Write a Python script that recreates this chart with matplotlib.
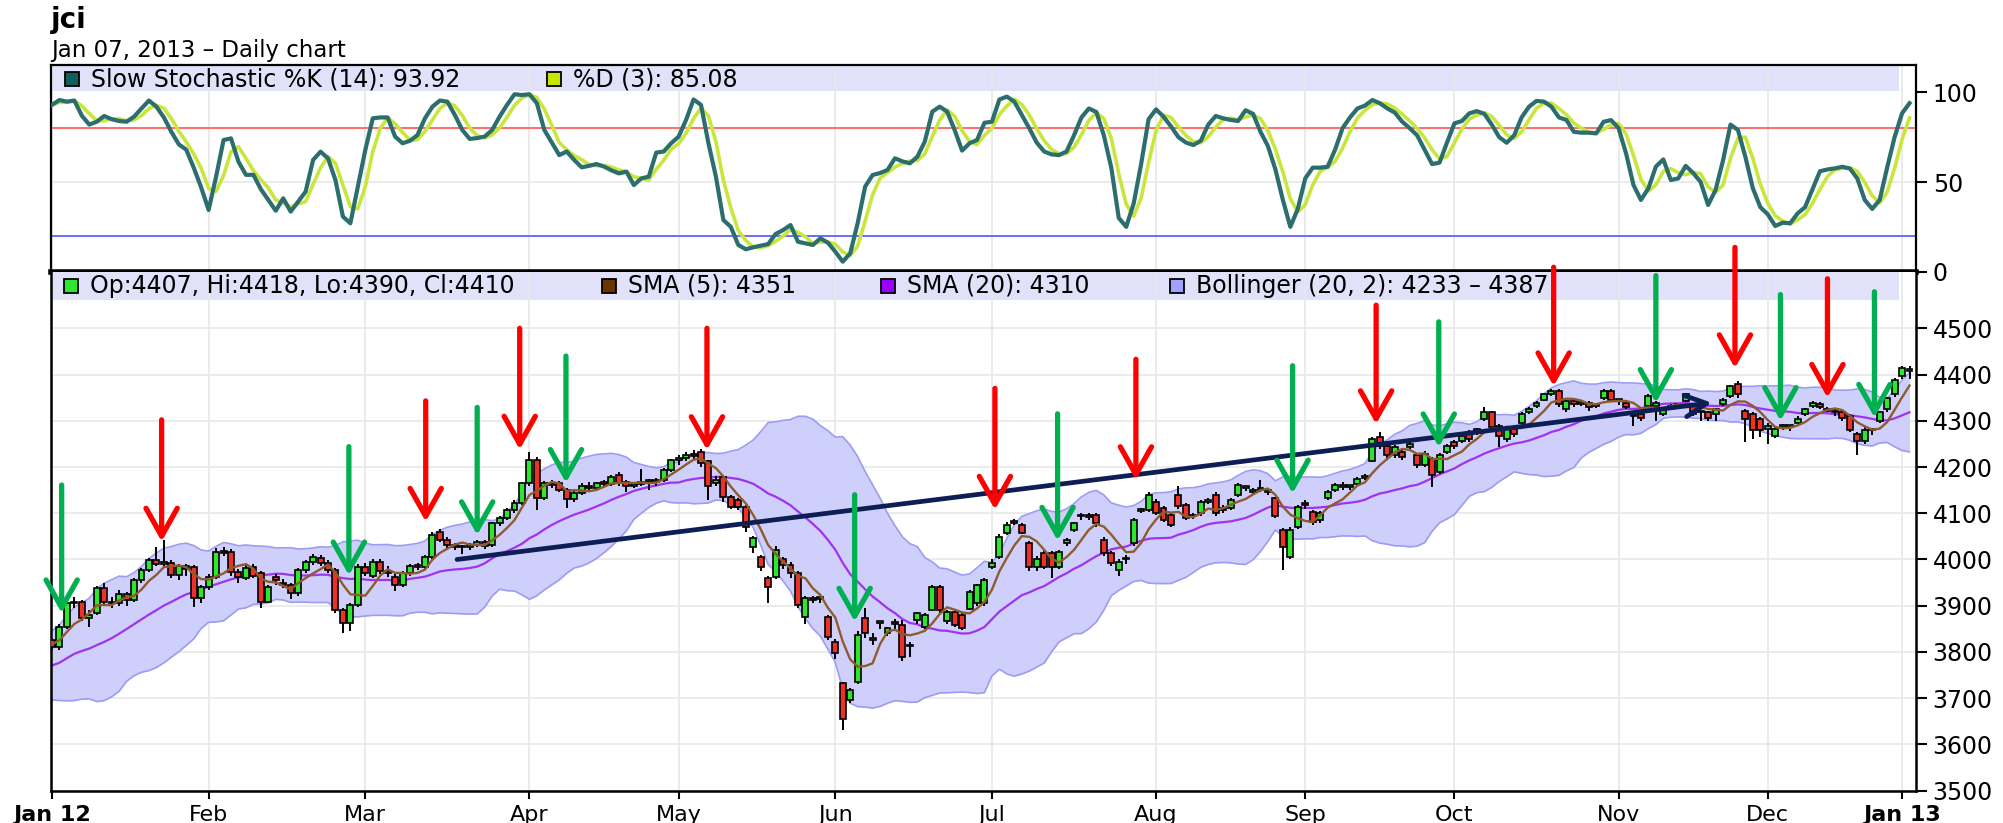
import numpy as np
import pandas as pd
import matplotlib
matplotlib.use("Agg")
import matplotlib.pyplot as plt

# Dec 2011 sessions, only needed to warm up the 20-day averages
warm_open = [3770, 3760, 3740, 3705, 3720, 3750, 3775, 3790, 3770, 3745,
             3730, 3710, 3745, 3770, 3790, 3800, 3795, 3810, 3815, 3822]
warm_high = [3785, 3768, 3745, 3730, 3760, 3782, 3798, 3795, 3775, 3750,
             3738, 3752, 3778, 3796, 3808, 3806, 3815, 3820, 3828, 3830]
warm_low = [3750, 3730, 3695, 3698, 3715, 3745, 3770, 3762, 3738, 3722,
            3700, 3705, 3740, 3765, 3785, 3788, 3790, 3805, 3810, 3815]
warm_close = [3760, 3740, 3705, 3720, 3750, 3775, 3790, 3770, 3745, 3730,
              3710, 3745, 3770, 3790, 3800, 3795, 3810, 3815, 3822, 3825]

# daily candles, Jan 2012 - Jan 7 2013
opens = [
    3825, 3810, 3855, 3905, 3908, 3873, 3885, 3938, 3909, 3905,
    3925, 3912, 3956, 3977, 3999, 3990, 3992, 3967, 3985, 3984,
    3916, 3940, 3963, 4017, 4017, 3974, 3960, 3984, 3970, 3909,
    3963, 3950, 3945, 3927, 3977, 3994, 4004, 3992, 3977, 3891,
    3862, 3902, 3984, 3965, 3995, 3975, 3963, 3945, 3970, 3986,
    3984, 4006, 4060, 4042, 4030, 4026, 4028, 4032, 4038, 4032,
    4078, 4089, 4107, 4122, 4165, 4215, 4132, 4165, 4165, 4150,
    4130, 4143, 4160, 4155, 4165, 4163, 4182, 4168, 4160, 4163,
    4168, 4168, 4172, 4194, 4215, 4220, 4226, 4233, 4212, 4165,
    4179, 4136, 4129, 4114, 4028, 4006, 3959, 3963, 4000, 3988,
    3970, 3876, 3916, 3914, 3876, 3822, 3732, 3696, 3736, 3873,
    3828, 3862, 3840, 3862, 3858, 3812, 3869, 3855, 3891, 3941,
    3866, 3887, 3880, 3894, 3905, 3905, 3984, 4006, 4057, 4082,
    4075, 4035, 3984, 4013, 4013, 3984, 4035, 4064, 4093, 4093,
    4096, 4042, 4013, 3977, 4002, 4035, 4105, 4107, 4125, 4111,
    4096, 4140, 4118, 4093, 4100, 4125, 4140, 4111, 4111, 4140,
    4154, 4147, 4150, 4147, 4132, 4064, 4006, 4071, 4121, 4103,
    4085, 4132, 4150, 4157, 4157, 4164, 4176, 4214, 4264, 4246,
    4225, 4232, 4243, 4225, 4204, 4218, 4189, 4232, 4254, 4257,
    4275, 4275, 4304, 4318, 4289, 4261, 4282, 4296, 4318, 4332,
    4346, 4357, 4364, 4325, 4343, 4336, 4339, 4332, 4350, 4364,
    4343, 4339, 4314, 4314, 4332, 4332, 4314, 4332, 4332, 4343,
    4332, 4318, 4318, 4314, 4336, 4354, 4379, 4321, 4314, 4304,
    4282, 4268, 4286, 4286, 4296, 4314, 4332, 4336, 4325, 4318,
    4318, 4311, 4271, 4257, 4279, 4300, 4325, 4357, 4396, 4407]
highs = [
    3830, 3860, 3912, 3918, 3912, 3890, 3942, 3950, 3918, 3935,
    3930, 3960, 3982, 4003, 4028, 4042, 3998, 3990, 3990, 3988,
    3945, 3968, 4025, 4028, 4022, 3980, 3990, 3990, 3975, 3945,
    3968, 3958, 3950, 3982, 3998, 4012, 4010, 3998, 3982, 3895,
    3905, 3990, 3992, 4000, 4000, 3985, 3968, 3975, 3990, 3992,
    4010, 4060, 4065, 4048, 4035, 4032, 4035, 4042, 4042, 4082,
    4095, 4112, 4128, 4168, 4233, 4222, 4170, 4172, 4170, 4155,
    4148, 4165, 4168, 4168, 4172, 4182, 4190, 4172, 4168, 4195,
    4175, 4176, 4198, 4218, 4225, 4232, 4236, 4238, 4215, 4180,
    4183, 4140, 4132, 4118, 4050, 4010, 3965, 4030, 4005, 3995,
    3975, 3920, 3920, 3918, 3880, 3828, 3735, 3722, 3845, 3895,
    3840, 3868, 3855, 3872, 3870, 3822, 3886, 3885, 3945, 3945,
    3890, 3890, 3884, 3935, 3948, 3960, 4000, 4055, 4082, 4088,
    4080, 4040, 4008, 4018, 4018, 4020, 4046, 4082, 4100, 4100,
    4100, 4048, 4018, 4000, 4010, 4090, 4112, 4145, 4130, 4115,
    4100, 4160, 4122, 4100, 4128, 4132, 4145, 4118, 4132, 4165,
    4160, 4155, 4172, 4155, 4136, 4068, 4070, 4118, 4128, 4106,
    4104, 4150, 4165, 4168, 4162, 4178, 4185, 4265, 4275, 4250,
    4248, 4236, 4255, 4230, 4235, 4222, 4230, 4250, 4258, 4272,
    4280, 4285, 4329, 4322, 4292, 4285, 4286, 4318, 4330, 4342,
    4360, 4368, 4368, 4346, 4347, 4345, 4342, 4336, 4368, 4368,
    4348, 4342, 4318, 4318, 4357, 4342, 4328, 4336, 4336, 4360,
    4336, 4322, 4322, 4328, 4350, 4378, 4386, 4325, 4318, 4308,
    4296, 4289, 4292, 4290, 4310, 4328, 4342, 4340, 4330, 4325,
    4322, 4315, 4275, 4286, 4285, 4321, 4352, 4392, 4418, 4418]
lows = [
    3805, 3805, 3850, 3895, 3868, 3855, 3880, 3900, 3895, 3900,
    3900, 3908, 3950, 3972, 3985, 3982, 3960, 3955, 3965, 3898,
    3905, 3935, 3958, 4008, 3965, 3950, 3955, 3960, 3895, 3905,
    3945, 3938, 3915, 3920, 3970, 3988, 3985, 3970, 3885, 3840,
    3845, 3898, 3965, 3960, 3968, 3962, 3932, 3940, 3965, 3978,
    3980, 4000, 4038, 4025, 4020, 4012, 4020, 4026, 4022, 4028,
    4072, 4085, 4100, 4118, 4160, 4108, 4128, 4155, 4145, 4112,
    4125, 4140, 4150, 4150, 4158, 4160, 4160, 4145, 4155, 4158,
    4150, 4160, 4168, 4190, 4205, 4212, 4218, 4200, 4129, 4160,
    4125, 4110, 4108, 4060, 4015, 3975, 3905, 3958, 3980, 3960,
    3895, 3860, 3905, 3905, 3825, 3785, 3631, 3690, 3730, 3830,
    3815, 3850, 3835, 3850, 3780, 3790, 3860, 3850, 3888, 3885,
    3860, 3855, 3848, 3890, 3900, 3900, 3980, 4000, 4052, 4075,
    4055, 3975, 3975, 3980, 3960, 3980, 4030, 4060, 4085, 4085,
    4070, 4008, 3985, 3965, 3990, 4030, 4100, 4102, 4096, 4082,
    4070, 4110, 4085, 4088, 4095, 4120, 4095, 4100, 4108, 4135,
    4148, 4140, 4145, 4140, 4090, 3977, 4000, 4066, 4110, 4075,
    4078, 4128, 4145, 4150, 4150, 4160, 4172, 4210, 4240, 4215,
    4220, 4215, 4238, 4198, 4200, 4157, 4185, 4228, 4240, 4252,
    4255, 4270, 4300, 4280, 4243, 4255, 4265, 4292, 4315, 4328,
    4342, 4354, 4330, 4320, 4330, 4332, 4322, 4328, 4346, 4340,
    4335, 4325, 4289, 4300, 4328, 4300, 4310, 4325, 4326, 4340,
    4310, 4300, 4300, 4300, 4332, 4350, 4350, 4254, 4260, 4265,
    4250, 4262, 4280, 4278, 4292, 4310, 4328, 4325, 4318, 4310,
    4300, 4275, 4225, 4250, 4270, 4295, 4320, 4352, 4390, 4390]
closes = [
    3810, 3855, 3905, 3908, 3873, 3880, 3938, 3909, 3905, 3925,
    3912, 3956, 3977, 3999, 3990, 3995, 3967, 3985, 3980, 3916,
    3940, 3963, 4017, 4014, 3974, 3963, 3982, 3965, 3909, 3940,
    3956, 3945, 3927, 3977, 3994, 4006, 3992, 3977, 3891, 3862,
    3902, 3984, 3970, 3995, 3975, 3970, 3945, 3970, 3986, 3984,
    4006, 4053, 4042, 4032, 4028, 4028, 4032, 4038, 4030, 4078,
    4089, 4107, 4122, 4165, 4215, 4132, 4165, 4162, 4150, 4130,
    4143, 4160, 4155, 4165, 4163, 4179, 4165, 4158, 4163, 4168,
    4170, 4172, 4194, 4215, 4220, 4226, 4224, 4208, 4158, 4172,
    4136, 4114, 4114, 4071, 4046, 3984, 3941, 4021, 3988, 3970,
    3902, 3916, 3912, 3916, 3833, 3797, 3656, 3718, 3837, 3840,
    3826, 3865, 3851, 3860, 3790, 3815, 3884, 3880, 3941, 3891,
    3887, 3858, 3851, 3930, 3945, 3956, 3992, 4049, 4075, 4080,
    4057, 3984, 4000, 3984, 3984, 4016, 4042, 4078, 4094, 4092,
    4078, 4013, 3992, 3995, 4000, 4085, 4107, 4140, 4100, 4085,
    4075, 4115, 4089, 4094, 4125, 4128, 4100, 4108, 4129, 4161,
    4156, 4150, 4152, 4148, 4093, 4028, 4064, 4114, 4118, 4082,
    4100, 4146, 4161, 4161, 4157, 4175, 4181, 4261, 4246, 4225,
    4243, 4221, 4250, 4204, 4229, 4182, 4225, 4246, 4246, 4268,
    4261, 4282, 4318, 4286, 4268, 4282, 4271, 4314, 4325, 4339,
    4357, 4364, 4336, 4343, 4336, 4339, 4329, 4332, 4364, 4346,
    4343, 4329, 4311, 4307, 4354, 4339, 4325, 4329, 4332, 4357,
    4314, 4318, 4307, 4325, 4346, 4375, 4357, 4304, 4279, 4279,
    4289, 4282, 4289, 4286, 4304, 4325, 4339, 4329, 4322, 4318,
    4307, 4279, 4257, 4279, 4282, 4318, 4350, 4389, 4414, 4410]

# slow stochastic %K(14)
stoch_k = [
    93, 95.7, 94.8, 95.4, 87, 82, 83.6, 86.8, 85, 84,
    83.6, 86.4, 91, 95.4, 92, 86, 78, 71, 68, 58,
    47, 34.4, 53, 73.4, 74.3, 61.3, 54, 54, 46, 40,
    34, 40.9, 33.5, 39, 44.6, 62.3, 66.9, 63.2, 51.1, 30.7,
    27, 47.4, 67.8, 85.5, 86, 86, 75.3, 71.6, 73, 76.2,
    85.5, 92, 95.4, 94.8, 87.4, 79, 74, 74.5, 75.3, 79,
    86.4, 93, 98.9, 98.5, 98.9, 93.9, 79, 72, 65, 67,
    62.3, 58.2, 59, 60, 58.6, 56.5, 54.8, 55.8, 48.3, 52,
    53, 66.4, 67, 71.6, 75.3, 84.6, 96, 93, 71.6, 53,
    28.8, 25, 14.9, 12.5, 13.6, 14.5, 15.4, 21, 23.2, 26,
    16.7, 15.8, 14.9, 18.6, 16.2, 11.2, 5.6, 10.2, 27, 47.4,
    53.9, 55, 56.7, 63.2, 61.5, 60.4, 64.1, 72.5, 89.2, 92,
    89.2, 79, 67.5, 71.6, 73.4, 83, 83.6, 96, 97.6, 94.8,
    87.4, 80, 72, 67, 65.4, 65, 67, 76, 86, 91,
    89, 76, 58, 30, 25, 38, 60, 85, 90.5, 86.4,
    81, 75, 72, 70.6, 73, 82, 86.8, 85.5, 84.6, 84,
    90, 88, 78, 70, 57, 40, 25, 35, 52, 58,
    58, 58.5, 68, 80, 86, 91, 92.6, 95.7, 93.9, 91,
    88.7, 83.6, 80, 76, 68, 60, 60.8, 72, 82.7, 84,
    88.3, 89.5, 88, 82, 75, 71.9, 76, 86, 92, 95.2,
    94.8, 92, 86, 84.6, 78, 77.5, 77.5, 77.1, 83.6, 84.5,
    80, 66, 48.3, 40, 46.5, 58.6, 62.6, 51.1, 52, 59,
    55, 50, 37.2, 45.5, 62, 82, 79, 64, 46.5, 36,
    32, 25.5, 27.3, 27, 32.5, 36, 46, 56, 57, 57.6,
    58.5, 57.5, 52, 40, 35, 40, 58, 75, 88.3, 93.92]

month_pos = [0, 21, 42, 64, 84, 105, 126, 148, 168, 188, 210, 230, 248]
month_lab = ["Jan 12", "Feb", "Mar", "Apr", "May", "Jun", "Jul",
             "Aug", "Sep", "Oct", "Nov", "Dec", "Jan 13"]

# hand drawn marks: (session, arrow top, arrow tip)
green_marks = [(1.3, 4161, 3884), (39.8, 4244, 3966), (57, 4329, 4053),
               (68.9, 4440, 4166), (107.6, 4140, 3866), (134.8, 4315, 4041),
               (166.3, 4419, 4143), (185.9, 4514, 4243), (215, 4614, 4339),
               (231.7, 4573, 4300), (244.3, 4579, 4307)]
red_marks = [(14.7, 4302, 4039), (50.1, 4343, 4082), (62.7, 4500, 4238),
             (87.8, 4500, 4237), (126.4, 4370, 4108), (145.3, 4433, 4172),
             (177.5, 4550, 4293), (201.3, 4632, 4375), (225.6, 4675, 4414),
             (238, 4607, 4350)]
trend_start = (54.3, 4000)
trend_end = (222.5, 4339)

# ---- indicators ----
n_warm = len(warm_close)
cl_all = pd.Series(warm_close + closes, dtype=float)
sma5 = cl_all.rolling(5).mean().values[n_warm:]
sma20 = cl_all.rolling(20).mean().values[n_warm:]
sd20 = cl_all.rolling(20).std(ddof=0).values[n_warm:]
bb_up = sma20 + 2 * sd20
bb_lo = sma20 - 2 * sd20
stoch_d = pd.Series(stoch_k).rolling(3, min_periods=1).mean().values

o = np.array(opens, float)
h = np.array(highs, float)
l = np.array(lows, float)
c = np.array(closes, float)
x = np.arange(len(c))

plt.rcParams['font.family'] = ['DejaVu Sans']

W, H = 2003, 823
fig = plt.figure(figsize=(W / 100, H / 100), dpi=100)


def box(left, top, right, bottom):
    return [left / W, 1 - bottom / H, (right - left) / W, (bottom - top) / H]


ax_s = fig.add_axes(box(51, 65.4, 1916, 271.7))
ax_p = fig.add_axes(box(51, 271.7, 1916, 790.7))
xlim = (-0.13, 249.87)
band_end = (1899 - 51) / (1916 - 51)

# ---- stochastic panel ----
ax_s.set_xlim(*xlim)
ax_s.set_ylim(0, 115)
ax_s.axhspan(100.5, 115, xmax=band_end, color='#e1e1fa', lw=0, zorder=0)
ax_s.axhline(80, color='#ff6b6b', lw=1.4, zorder=1)
ax_s.axhline(20, color='#6b6bff', lw=1.4, zorder=1)
ax_s.axhline(50, color='#e8e8e8', lw=1.2, zorder=0)
for m in month_pos:
    ax_s.axvline(m, color='#e8e8e8', lw=1.2, zorder=0)
ax_s.plot(x, stoch_d, color='#c8e63c', lw=2.6, zorder=2)
ax_s.plot(x, stoch_k, color='#2c6e6e', lw=3.0, zorder=3)
ax_s.yaxis.tick_right()
ax_s.set_yticks([0, 50, 100])
ax_s.set_xticks([])
ax_s.tick_params(axis='y', direction='out', length=8, width=1.5, labelsize=17, pad=4)
for s in ['left', 'right', 'top']:
    ax_s.spines[s].set_linewidth(1.6)
ax_s.spines['bottom'].set_linewidth(4)

# ---- price panel ----
ax_p.set_xlim(*xlim)
ax_p.set_ylim(3500, 4622.4)
ax_p.axhspan(4561, 4622.4, xmax=band_end, color='#e1e1fa', lw=0, zorder=0)
ax_p.set_yticks(np.arange(3500, 4501, 100))
ax_p.set_xticks(month_pos)
ax_p.set_xticklabels(month_lab)
ax_p.grid(True, color='#e8e8e8', lw=1.2)
ax_p.set_axisbelow(True)

ax_p.fill_between(x, bb_lo, bb_up, color='#cfcffb', lw=0, zorder=1)
ax_p.plot(x, bb_up, color='#9c9cf4', lw=1.2, zorder=1.2)
ax_p.plot(x, bb_lo, color='#9c9cf4', lw=1.2, zorder=1.2)
ax_p.plot(x, sma20, color='#a033f0', lw=1.6, zorder=1.5)

up = c >= o
body_lo = np.minimum(o, c)
body_h = np.maximum(np.abs(c - o), 4)
ax_p.vlines(x, l, h, color='black', lw=1.4, zorder=2)
ax_p.bar(x, body_h, bottom=body_lo, width=0.8,
         color=np.where(up, '#2fe62f', '#ec3228'),
         edgecolor='black', linewidth=1.2, zorder=3)
ax_p.plot(x, sma5, color='#8d5b2c', lw=1.7, zorder=4)

ax_p.annotate('', xy=trend_end, xytext=trend_start,
              arrowprops=dict(arrowstyle='->,head_length=0.7,head_width=0.35',
                              color='#0d1e55', lw=3.4, mutation_scale=22,
                              shrinkA=0, shrinkB=0), zorder=6)

for marks, col in [(green_marks, '#00b050'), (red_marks, '#ff0000')]:
    for xi, top, tip in marks:
        ax_p.annotate('', xy=(xi, tip), xytext=(xi, top), annotation_clip=False,
                      arrowprops=dict(arrowstyle='->,head_length=0.8,head_width=0.45',
                                      color=col, lw=3.8, mutation_scale=25,
                                      shrinkA=0, shrinkB=0), zorder=10)

ax_p.yaxis.tick_right()
ax_p.tick_params(axis='y', direction='out', length=8, width=1.5, labelsize=17, pad=4)
ax_p.tick_params(axis='x', direction='out', length=6, width=1.5, labelsize=16, pad=4)
for lab in ax_p.get_xticklabels():
    if lab.get_text().startswith('Jan'):
        lab.set_fontweight('bold')
for s in ['left', 'right', 'bottom']:
    ax_p.spines[s].set_linewidth(1.8)
ax_p.spines['top'].set_visible(False)

# ---- titles and legend rows ----
fig.text(51 / W, 1 - 28 / H, 'jci', fontsize=20, fontweight='bold', va='baseline')
fig.text(51 / W, 1 - 57 / H, 'Jan 07, 2013 \u2013 Daily chart', fontsize=16.5, va='baseline')


def legend_item(xpx, ypx, color, label):
    fig.patches.append(plt.Rectangle(((xpx) / W, 1 - (ypx + 7) / H), 14 / W, 14 / H,
                                     transform=fig.transFigure, facecolor=color,
                                     edgecolor='black', lw=1.3, zorder=5))
    fig.text((xpx + 26) / W, 1 - ypx / H, label, fontsize=17, va='center', zorder=5)


legend_item(65, 79, '#0f5f5a', 'Slow Stochastic %K (14): 93.92')
legend_item(547, 79, '#c8e600', '%D (3): 85.08')
legend_item(64, 286, '#2fe62f', 'Op:4407, Hi:4418, Lo:4390, Cl:4410')
legend_item(602, 286, '#6b3300', 'SMA (5): 4351')
legend_item(881, 286, '#9900ff', 'SMA (20): 4310')
legend_item(1170, 286, '#a0a0ff', 'Bollinger (20, 2): 4233 \u2013 4387')

fig.savefig('out.png', dpi=100)
